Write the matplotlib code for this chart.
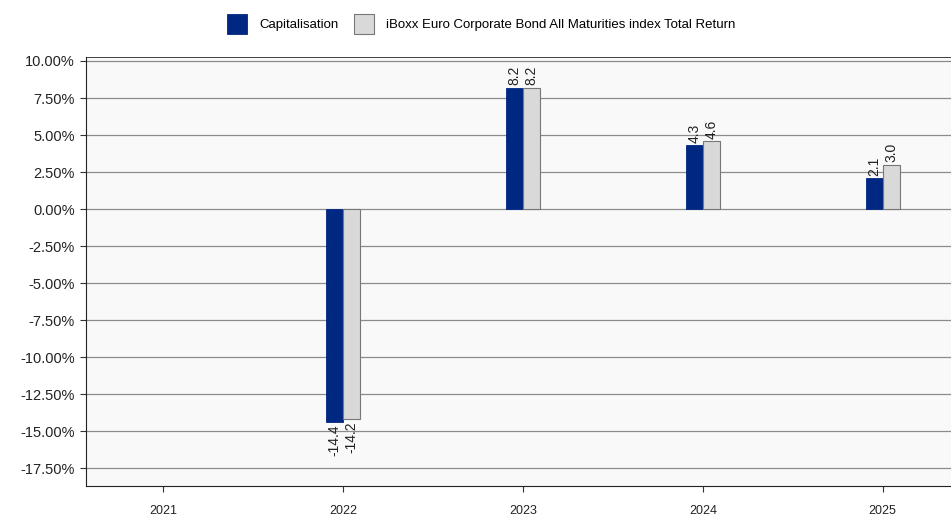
import numpy as np
import matplotlib.pyplot as plt
from matplotlib.ticker import FuncFormatter

plt.rcParams['font.family'] = ['Liberation Sans', 'DejaVu Sans']

years = ['2021', '2022', '2023', '2024', '2025']
fund = [np.nan, -14.4, 8.2, 4.3, 2.1]
index = [np.nan, -14.2, 8.2, 4.6, 3.0]
yticks = [10, 7.5, 5, 2.5, 0, -2.5, -5, -7.5, -10, -12.5, -15, -17.5]

fig = plt.figure(figsize=(9.51, 5.17), dpi=100)
ax = fig.add_axes([86/951, 1-486/517, 1-86/951, (486-57)/517])
ax.set_facecolor('#f9f9f9')

x = np.arange(len(years))
w = 0.094
b1 = ax.bar(x - w/2, fund, w, color='#002782', edgecolor='#002782', linewidth=0.6,
            label='Capitalisation', zorder=3)
b2 = ax.bar(x + w/2, index, w, color='#d9d9d9', edgecolor='#777777', linewidth=0.8,
            label='iBoxx Euro Corporate Bond All Maturities index Total Return', zorder=3)

for bars, vals in ((b1, fund), (b2, index)):
    for rect, v in zip(bars, vals):
        if np.isnan(v):
            continue
        cx = rect.get_x() + rect.get_width()/2
        if v >= 0:
            ax.text(cx, v + 0.15, f'{v:.1f}', rotation=90, ha='center', va='bottom',
                    fontsize=10, color='#222222')
        else:
            ax.text(cx, v - 0.15, f'{v:.1f}', rotation=90, ha='center', va='top',
                    fontsize=10, color='#222222')

ax.set_xlim(-0.43, 4.38)
ax.set_ylim(-18.7, 10.27)
ax.set_xticks(x)
ax.set_xticklabels(years)
ax.set_yticks(yticks)
ax.yaxis.set_major_formatter(FuncFormatter(lambda v, p: f'{v:.2f}%'))
ax.grid(axis='y', color='#8c8c8c', linewidth=0.9, zorder=0)
ax.tick_params(axis='y', labelsize=10.5, colors='#333333', length=4, pad=4, labelcolor='#222222')
ax.tick_params(axis='x', labelsize=9, length=4, pad=10, labelcolor='#222222', colors='#333333')
for s in ['top', 'right']:
    ax.spines[s].set_visible(False)
for s in ['left', 'bottom']:
    ax.spines[s].set_color('#222222')
ax.axhline(10.27, color='#222222', linewidth=1.2, zorder=4)

fig.legend(handles=[b1, b2], loc='center', bbox_to_anchor=(0.506, 1-24/517),
           ncol=2, frameon=False, fontsize=9.5, handlelength=1.5, handleheight=1.9,
           columnspacing=1.2, handletextpad=0.9)

fig.savefig('out.png', dpi=100)
